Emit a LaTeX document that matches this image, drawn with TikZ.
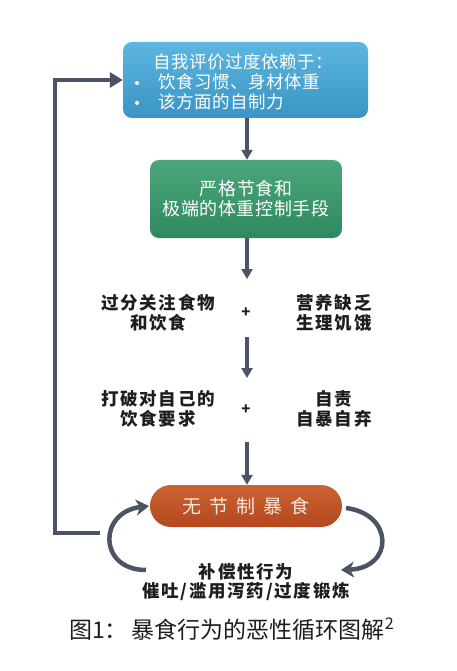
\documentclass[tikz,border=0pt]{standalone}
\usepackage{fontspec}
\setmainfont{Noto Sans CJK SC}
\newfontfamily\cjkw{Noto Sans CJK SC}[LetterSpace=10]
\newfontfamily\cjkb{Noto Sans CJK SC}[LetterSpace=3]
\usetikzlibrary{arrows.meta}
\definecolor{lineC}{HTML}{4A5466}
\definecolor{txtC}{HTML}{1E1E1E}
\definecolor{blueT}{HTML}{5DB6DF}
\definecolor{blueB}{HTML}{3A94C5}
\definecolor{greenT}{HTML}{4CA67C}
\definecolor{greenB}{HTML}{2F8960}
\definecolor{orT}{HTML}{CC6331}
\definecolor{orB}{HTML}{B4471F}
\definecolor{pillT}{HTML}{F5E8DE}
\tikzset{
  boxbase/.style={rounded corners=9pt, draw=none, text=white, align=center, inner sep=0pt},
  bluebox/.style={boxbase, top color=blueT, bottom color=blueB},
  greenbox/.style={boxbase, top color=greenT, bottom color=greenB},
  pillbox/.style={draw=none, rounded corners=21pt, top color=orT, bottom color=orB, text=pillT, inner sep=0pt},
  flow/.style={draw=lineC, line width=4pt, -{Triangle[length=10pt,width=11pt]}},
  loopline/.style={draw=lineC, line width=4.5pt, -{Triangle[length=13pt,width=15pt]}},
  curvearr/.style={draw=lineC, line width=4.5pt, -{Stealth[length=13pt,width=16pt,inset=4pt]}},
  rowtxt/.style={font=\cjkw\fontsize{17.5}{19.5}\selectfont\bfseries, text=txtC, align=center, inner sep=0pt},
  plustxt/.style={font=\fontsize{15}{15}\selectfont\bfseries, text=txtC, inner sep=0pt},
  boxtxt/.style={font=\cjkb\fontsize{17.5}{20}\selectfont, text=white, inner sep=0pt},
  dot/.style={circle, fill=white, draw=none, minimum size=4pt, inner sep=0pt},
}
\begin{document}
\begin{tikzpicture}[x=1pt,y=-1pt]
\useasboundingbox (0,0) rectangle (456,671);
% boxes
\node[bluebox, minimum width=245pt, minimum height=76pt] (b1) at (245.5,80) {};
\node[boxtxt, anchor=west] (t1) at (153,62) {自我评价过度依赖于：};
\node[dot] (d1) at (137,83) {};
\node[boxtxt, anchor=west] (t2) at (158,82) {饮食习惯、身材体重};
\node[dot] (d2) at (137,103) {};
\node[boxtxt, anchor=west] (t3) at (158,102) {该方面的自制力};
\node[greenbox, minimum width=192pt, minimum height=78pt, font=\cjkb\fontsize{18}{20}\selectfont] (b2) at (246,199) {严格节食和\\极端的体重控制手段};
% rows
\node[rowtxt] (r1l) at (158,313) {过分关注食物\\和饮食};
\node[plustxt] (p1) at (246,313) {+};
\node[rowtxt] (r1r) at (334,313) {营养缺乏\\生理饥饿};
\node[rowtxt] (r2l) at (158,409) {打破对自己的\\饮食要求};
\node[plustxt] (p2) at (246,410) {+};
\node[rowtxt] (r2r) at (334,409) {自责\\自暴自弃};
% pill
\node[pillbox, minimum width=192pt, minimum height=42pt, font=\fontsize{19}{20}\selectfont] (pill) at (246,506) {无\hspace{8pt}节\hspace{8pt}制\hspace{8pt}暴\hspace{8pt}食};
\node[rowtxt] (comp) at (246,582) {补偿性行为\\催吐/滥用泻药/过度锻炼};
% caption
\node[font=\fontsize{23}{26}\selectfont, text=txtC, inner sep=0pt, anchor=west] (cap) at (69,629) {图1：\hspace{4pt}暴食行为的恶性循环图解\textsuperscript{2}};
% flow arrows
\coordinate (a1s) at (247,238);
\coordinate (a1e) at (247,279);
\coordinate (a2s) at (247,337);
\coordinate (a2e) at (247,378);
\coordinate (a3s) at (247,442);
\draw[flow] (b1.south -| a1s) -- (b2.north -| a1s);
\draw[flow] (b2.south -| a1s) -- (a1e);
\draw[flow] (a2s) -- (a2e);
\draw[flow] (a3s) -- (pill.north -| a3s);
% loop back
\coordinate (ls) at (100,533);
\coordinate (lc) at (55,533);
\draw[loopline] (ls) -- (lc) |- (b1.west);
% curved arrows
\coordinate (cl1) at (146,570);
\coordinate (cl2) at (149,506);
\coordinate (cr1) at (346,508);
\coordinate (cr2) at (341,570);
\draw[curvearr] (cl1) .. controls (98,570) and (98,512) .. (cl2);
\draw[curvearr] (cr1) .. controls (394,514) and (394,568) .. (cr2);
\end{tikzpicture}
\end{document}
